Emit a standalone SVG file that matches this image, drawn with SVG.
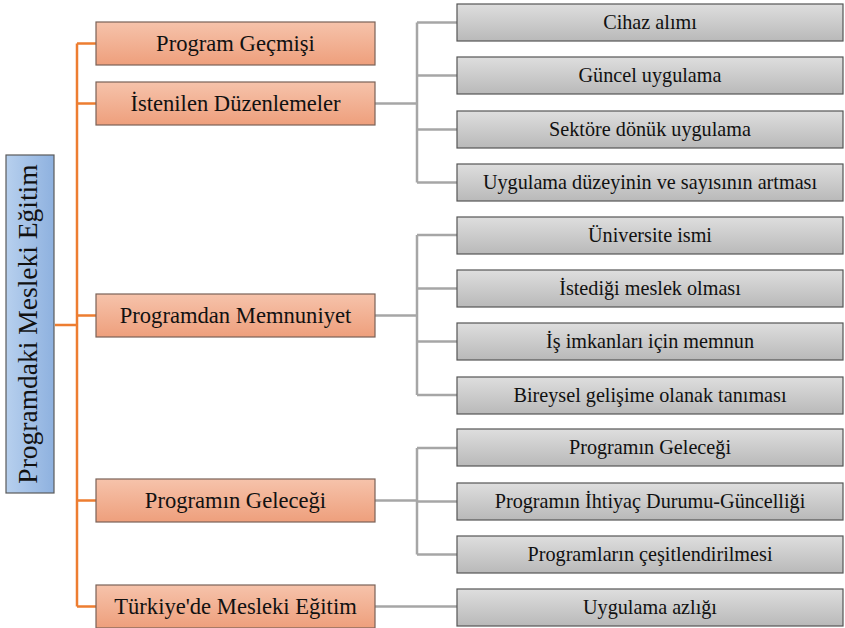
<svg xmlns="http://www.w3.org/2000/svg" width="845" height="628" viewBox="0 0 845 628">
<defs>
<linearGradient id="gBlue" x1="0" y1="0" x2="1" y2="0">
<stop offset="0" stop-color="#b7d0ee"/><stop offset="1" stop-color="#8eb1df"/>
</linearGradient>
<linearGradient id="gSal" x1="0" y1="0" x2="0" y2="1">
<stop offset="0" stop-color="#f6c3ab"/><stop offset="1" stop-color="#ee9f7c"/>
</linearGradient>
<linearGradient id="gGray" x1="0" y1="0" x2="0" y2="1">
<stop offset="0" stop-color="#dedede"/><stop offset="1" stop-color="#b9b9b9"/>
</linearGradient>
</defs>
<style>
.root{fill:url(#gBlue);stroke:#5a5a5a;stroke-width:1.2}
.l1{fill:url(#gSal);stroke:#7a6258;stroke-width:1.2}
.l2{fill:url(#gGray);stroke:#555;stroke-width:1.2}
text{font-family:"Liberation Serif","Times New Roman",serif;fill:#111;text-anchor:middle}
.t1{font-size:22.6px}
.t2{font-size:20.2px}
.t0{font-size:27.5px}
.or{stroke:#ed7d31;stroke-width:2.5;fill:none}
.gr{stroke:#a6a6a6;stroke-width:2.5;fill:none}
</style>
<g id="connectors">
<path class="or" d="M55 325H77M77 43.5V606.5M77 43.5H96M77 103.5H96M77 315.5H96M77 500.5H96M77 606.5H96"/>
<path class="gr" d="M375 103.5H417M417 22.5V182.5M417 22.5H457M417 75.5H457M417 129.5H457M417 182.5H457"/>
<path class="gr" d="M375 315.5H417M417 235V395M417 235H457M417 288.5H457M417 341.5H457M417 395H457"/>
<path class="gr" d="M375 500.5H417M417 448V554.5M417 448H457M417 501.5H457M417 554.5H457"/>
<path class="gr" d="M375 606.5H457"/>
</g>
<g id="root"><rect class="root" x="6" y="155" width="48" height="338"/><text class="t0" transform="translate(37 324) rotate(-90)">Programdaki Mesleki Eğitim</text></g>
<g id="n1"><rect class="l1" x="96" y="22" width="279" height="43"/><text class="t1" x="235.5" y="51">Program Geçmişi</text></g>
<g id="n2"><rect class="l1" x="96" y="82" width="279" height="43"/><text class="t1" x="235.5" y="111">İstenilen Düzenlemeler</text></g>
<g id="n3"><rect class="l1" x="96" y="294" width="279" height="43"/><text class="t1" x="235.5" y="323">Programdan Memnuniyet</text></g>
<g id="n4"><rect class="l1" x="96" y="479" width="279" height="43"/><text class="t1" x="235.5" y="508">Programın Geleceği</text></g>
<g id="n5"><rect class="l1" x="96" y="585" width="279" height="43"/><text class="t1" x="235.5" y="614">Türkiye'de Mesleki Eğitim</text></g>
<g id="c1"><rect class="l2" x="457" y="4" width="386" height="37"/><text class="t2" x="650" y="29">Cihaz alımı</text></g>
<g id="c2"><rect class="l2" x="457" y="57" width="386" height="37"/><text class="t2" x="650" y="82">Güncel uygulama</text></g>
<g id="c3"><rect class="l2" x="457" y="111" width="386" height="37"/><text class="t2" x="650" y="136">Sektöre dönük uygulama</text></g>
<g id="c4"><rect class="l2" x="457" y="164" width="386" height="37"/><text class="t2" x="650" y="189">Uygulama düzeyinin ve sayısının artması</text></g>
<g id="c5"><rect class="l2" x="457" y="217" width="386" height="37"/><text class="t2" x="650" y="242">Üniversite ismi</text></g>
<g id="c6"><rect class="l2" x="457" y="270" width="386" height="37"/><text class="t2" x="650" y="295">İstediği meslek olması</text></g>
<g id="c7"><rect class="l2" x="457" y="323" width="386" height="37"/><text class="t2" x="650" y="348">İş imkanları için memnun</text></g>
<g id="c8"><rect class="l2" x="457" y="377" width="386" height="37"/><text class="t2" x="650" y="402">Bireysel gelişime olanak tanıması</text></g>
<g id="c9"><rect class="l2" x="457" y="429" width="386" height="37"/><text class="t2" x="650" y="454">Programın Geleceği</text></g>
<g id="c10"><rect class="l2" x="457" y="483" width="386" height="37"/><text class="t2" x="650" y="508">Programın İhtiyaç Durumu-Güncelliği</text></g>
<g id="c11"><rect class="l2" x="457" y="536" width="386" height="37"/><text class="t2" x="650" y="561">Programların çeşitlendirilmesi</text></g>
<g id="c12"><rect class="l2" x="457" y="589" width="386" height="37"/><text class="t2" x="650" y="614">Uygulama azlığı</text></g>
</svg>
